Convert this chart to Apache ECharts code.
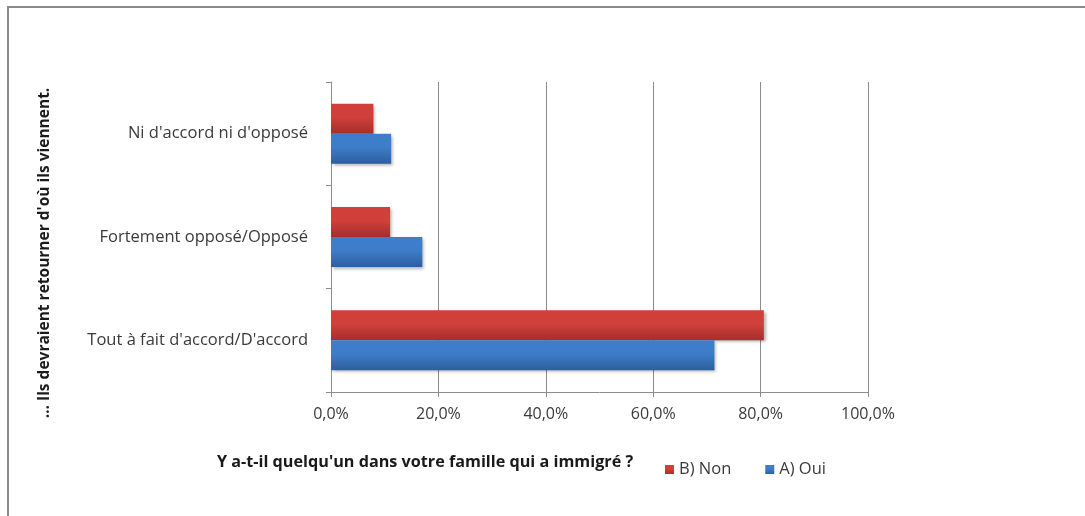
<!DOCTYPE html>
<html>
<head>
<meta charset="utf-8">
<script src="https://cdn.jsdelivr.net/npm/echarts@6/dist/echarts.min.js"></script>
<style>
  html, body { margin: 0; padding: 0; background: #fff; }
  #chart { width: 1085px; height: 516px; }
</style>
</head>
<body>
<div id="chart"></div>
<script>
// Response categories, bottom to top
const categories = [
  "Tout à fait d'accord/D'accord",
  "Fortement opposé/Opposé",
  "Ni d'accord ni d'opposé"
];
// Share of respondents (%) per answer
const seriesOui = [71.4, 17.0, 11.2];   // A) Oui
const seriesNon = [80.6, 11.0, 7.9];    // B) Non
const xTicks = [0, 20, 40, 60, 80, 100];

const FONT = '"Open Sans", sans-serif';
const TEXT = '#3a3a3a';

function grad(top, bottom) {
  return new echarts.graphic.LinearGradient(0, 0, 0, 1, [
    { offset: 0, color: top },
    { offset: 0.45, color: top },
    { offset: 1, color: bottom }
  ]);
}

const chart = echarts.init(document.getElementById('chart'), null, { renderer: 'canvas' });

chart.setOption({
  animation: false,
  backgroundColor: '#ffffff',
  textStyle: { fontFamily: FONT },
  grid: { left: 331, right: 217, top: 82, bottom: 124, containLabel: false },
  xAxis: {
    type: 'value',
    min: xTicks[0],
    max: xTicks[xTicks.length - 1],
    interval: 20,
    axisLine: { show: true, lineStyle: { color: '#8c8c8c', width: 1 } },
    axisTick: { show: true, length: 5, lineStyle: { color: '#8c8c8c' } },
    splitLine: { show: true, lineStyle: { color: '#8c8c8c', width: 1 } },
    axisLabel: {
      color: TEXT, fontSize: 16, fontFamily: FONT, margin: 14,
      formatter: v => v.toFixed(1).replace('.', ',') + '%'
    }
  },
  yAxis: {
    type: 'category',
    data: categories,
    axisLine: { show: true, lineStyle: { color: '#8c8c8c', width: 1 } },
    axisTick: { show: true, length: 5, lineStyle: { color: '#8c8c8c' } },
    axisLabel: { color: TEXT, fontSize: 16.5, fontFamily: FONT, margin: 23 }
  },
  legend: {
    data: ['B) Non', 'A) Oui'],
    left: 660,
    top: 456,
    itemWidth: 9,
    itemHeight: 9,
    itemGap: 34,
    icon: 'rect',
    textStyle: { color: TEXT, fontSize: 16.5, fontFamily: FONT }
  },
  graphic: [
    {
      type: 'rect',
      shape: { x: 8, y: 7, width: 1100, height: 530 },
      style: { fill: 'none', stroke: '#8a8a8a', lineWidth: 2 },
      silent: true
    },
    {
      type: 'text',
      left: 217,
      top: 454,
      style: {
        text: "Y a-t-il quelqu'un dans votre famille qui a immigré ?",
        fill: '#1a1a1a', font: 'bold 16.2px ' + FONT
      }
    },
    {
      type: 'text',
      x: 45, y: 253,
      rotation: Math.PI / 2,
      style: {
        text: "… Ils devraient retourner d'où ils viennent.",
        fill: '#1a1a1a', font: 'bold 15.5px ' + FONT,
        align: 'center', verticalAlign: 'middle'
      }
    }
  ],
  series: [
    {
      name: 'B) Non',
      type: 'bar',
      data: seriesNon,
      barGap: '0%',
      barCategoryGap: '42%',
      itemStyle: {
        color: grad('#d13f3b', '#a52e2c'),
        shadowColor: 'rgba(0,0,0,0.3)', shadowBlur: 3, shadowOffsetX: 2, shadowOffsetY: 2
      }
    },
    {
      name: 'A) Oui',
      type: 'bar',
      data: seriesOui,
      barGap: '0%',
      barCategoryGap: '42%',
      itemStyle: {
        color: grad('#3e7dca', '#2d5e9e'),
        shadowColor: 'rgba(0,0,0,0.3)', shadowBlur: 3, shadowOffsetX: 2, shadowOffsetY: 2
      }
    }
  ]
});
</script>
</body>
</html>
